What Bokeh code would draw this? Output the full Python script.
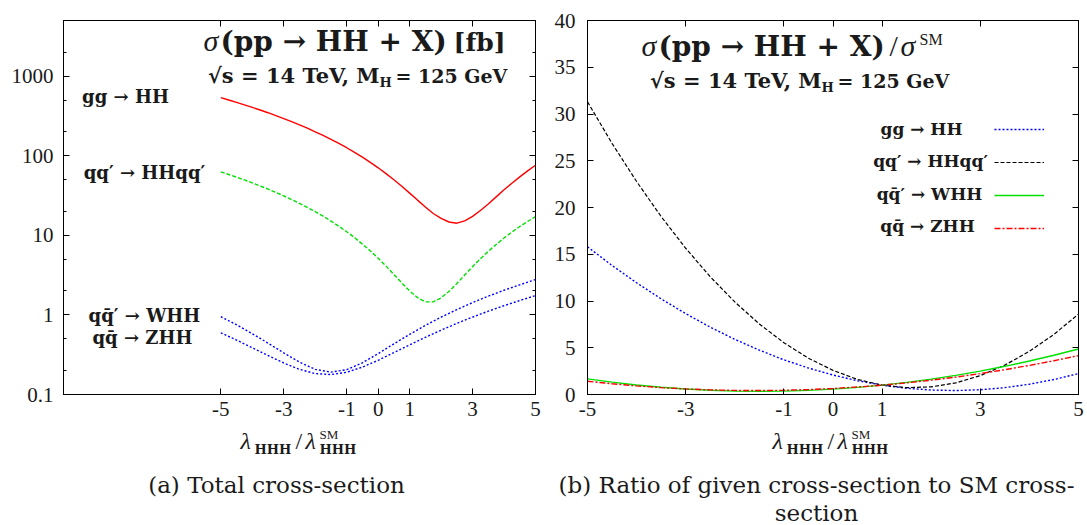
from bokeh.plotting import figure
from bokeh.models import (FixedTicker, LinearAxis, LogAxis, Label, Legend, LegendItem,
                          CustomJSTickFormatter)
from bokeh.layouts import row, column
from bokeh.embed import file_html
from bokeh.resources import INLINE

# ---------------- data ----------------
lam = [-5.0, -4.5, -4.0, -3.5, -3.0, -2.5, -2.0, -1.5, -1.0, -0.5, 0.0,
       0.5, 1.0, 1.5, 2.0, 2.5, 3.0, 3.5, 4.0, 4.5, 5.0]
lam_a = [-5.0, -4.75, -4.5, -4.25, -4.0, -3.75, -3.5, -3.25, -3.0, -2.75, -2.5,
         -2.25, -2.0, -1.75, -1.5, -1.25, -1.0, -0.75, -0.5, -0.25, 0.0,
         0.25, 0.5, 0.75, 1.0, 1.25, 1.5, 1.75, 2.0, 2.25, 2.5,
         2.75, 3.0, 3.25, 3.5, 3.75, 4.0, 4.25, 4.5, 4.75, 5.0]

# (a) total cross sections [fb]
xs_gg = [536, 501, 468, 436, 405, 375, 347, 319, 293, 268, 244,
         222, 200, 180, 161, 143, 126, 110, 96, 82.5, 70.5,
         59.5, 49.8, 41.3, 33.9, 27.7, 22.7, 18.8, 16.3, 14.7, 14.2,
         15.2, 17.3, 20.5, 24.7, 30.4, 37.3, 45.1, 54.2, 64.5, 75.9]
xs_vbf = [62.6, 58.1, 53.7, 49.6, 45.6, 41.7, 38.1, 34.6, 31.3, 28.1, 25.2,
          22.4, 19.8, 17.4, 15.1, 13.0, 11.1, 9.34, 7.76, 6.37, 5.16,
          4.10, 3.22, 2.53, 2.0, 1.65, 1.46, 1.46, 1.64, 1.97, 2.48,
          3.18, 4.04, 5.08, 6.28, 7.67, 9.24, 11.0, 12.9, 14.9, 17.2]
xs_whh = [0.95, 0.752, 0.581, 0.442, 0.333, 0.255, 0.207, 0.191, 0.205, 0.250, 0.326,
          0.433, 0.57, 0.738, 0.937, 1.167, 1.427, 1.719, 2.04, 2.39, 2.78]
xs_zhh = [0.596, 0.483, 0.386, 0.309, 0.249, 0.207, 0.183, 0.178, 0.190, 0.221, 0.269,
          0.336, 0.42, 0.523, 0.643, 0.782, 0.939, 1.114, 1.307, 1.518, 1.747]

# (b) ratio to SM
r_gg = [15.8, 13.80, 11.95, 10.23, 8.65, 7.20, 5.90, 4.74, 3.71, 2.83, 2.08,
        1.47, 1.0, 0.67, 0.48, 0.42, 0.51, 0.73, 1.10, 1.60, 2.24]
r_vbf = [31.3, 26.86, 22.78, 19.03, 15.64, 12.59, 9.90, 7.54, 5.54, 3.88, 2.58,
         1.61, 1.0, 0.73, 0.82, 1.24, 2.02, 3.14, 4.62, 6.43, 8.6]
r_whh = [1.67, 1.32, 1.02, 0.775, 0.584, 0.447, 0.364, 0.335, 0.36, 0.439, 0.572,
         0.759, 1.0, 1.295, 1.644, 2.047, 2.504, 3.015, 3.58, 4.199, 4.87]
r_zhh = [1.42, 1.149, 0.92, 0.735, 0.592, 0.493, 0.436, 0.423, 0.452, 0.525, 0.64,
         0.799, 1.0, 1.245, 1.532, 1.863, 2.236, 2.653, 3.112, 3.615, 4.16]

x_ticks = [-5, -3, -1, 0, 1, 3, 5]
y_ticks_a = [0.1, 1, 10, 100, 1000]
y_minor_a = [0.2, 0.5, 2, 5, 20, 50, 200, 500, 2000, 5000]
y_ticks_b = [0, 5, 10, 15, 20, 25, 30, 35, 40]

TXT = "#1a1a1a"
BOLD = "DejaVu Serif"
ROMAN = "Liberation Serif"
BASE_OFF = 0.33  # correction of rendered baseline, in em


def style_axis(ax, show=True, standoff=7):
    ax.axis_line_color = "black"
    ax.axis_line_width = 1
    ax.major_tick_in = 6
    ax.major_tick_out = 0
    ax.minor_tick_in = 3
    ax.minor_tick_out = 0
    ax.major_tick_line_color = "black"
    ax.minor_tick_line_color = "black"
    ax.major_label_text_font = ROMAN
    ax.major_label_text_font_size = "21px"
    ax.major_label_text_color = TXT
    ax.major_label_standoff = standoff
    if not show:
        ax.formatter = CustomJSTickFormatter(code="return ''")
        ax.major_label_text_font_size = "1px"
        ax.major_label_standoff = 0


def lab(p, x, y, text, font=BOLD, size=18, style="normal", align="left"):
    p.add_layout(Label(x=x, y=y + BASE_OFF * size, x_units="screen", y_units="screen",
                       text=text, text_font=font, text_font_size=f"{size}px",
                       text_font_style=style, text_align=align,
                       text_baseline="alphabetic", text_color=TXT))


def base_fig(w, h, xr, yr, ytype, bl, br, bt, bb):
    p = figure(width=w, height=h, x_range=xr, y_range=yr, y_axis_type=ytype,
               output_backend="svg", toolbar_location=None,
               min_border_left=bl, min_border_right=br, min_border_top=bt, min_border_bottom=bb)
    p.xgrid.visible = False
    p.ygrid.visible = False
    p.outline_line_color = "black"
    p.outline_line_width = 1
    p.outline_line_alpha = 1
    p.background_fill_color = "white"
    p.border_fill_color = "white"
    return p


xfmt = "return tick.toFixed(0)"

# ---------------- panel (a) ----------------
p1 = base_fig(543, 426, (-10, 5), (0.1, 5000), "log", 63, 8, 18, 32)
xa = p1.xaxis[0]
xa.ticker = FixedTicker(ticks=x_ticks)
xa.formatter = CustomJSTickFormatter(code=xfmt)
style_axis(xa, True, 7)
ya = p1.yaxis[0]
ya.ticker = FixedTicker(ticks=y_ticks_a, minor_ticks=y_minor_a)
ya.formatter = CustomJSTickFormatter(code="return tick < 1 ? tick.toFixed(1) : tick.toFixed(0)")
style_axis(ya, True, 10)
top1 = LinearAxis(ticker=FixedTicker(ticks=x_ticks))
style_axis(top1, False)
p1.add_layout(top1, "above")
right1 = LogAxis(ticker=FixedTicker(ticks=y_ticks_a, minor_ticks=y_minor_a))
style_axis(right1, False)
p1.add_layout(right1, "right")

p1.line(lam_a, xs_gg, line_color="#ff0000", line_width=1.4)
p1.line(lam_a, xs_vbf, line_color="#00e000", line_width=1.4, line_dash="4 2")
p1.line(lam, xs_whh, line_color="#0000ff", line_width=1.4, line_dash="2 2")
p1.line(lam, xs_zhh, line_color="#0000ff", line_width=1.4, line_dash="2 2")

# title / subtitle (a)
lab(p1, 140, 344, "σ", font=ROMAN, size=30, style="italic")
lab(p1, 157, 344, "(pp → HH + X)", size=28, style="bold")
lab(p1, 442, 344, "[fb]", size=25, style="bold", align="right")
lab(p1, 316, 312, "√s = 14 TeV, M", size=21, style="bold", align="right")
lab(p1, 316, 308, "H", size=13, style="bold")
lab(p1, 332, 312, "= 125 GeV", size=19, style="bold")
# curve labels
lab(p1, 62, 292, "gg → HH", size=18, style="bold", align="center")
lab(p1, 81, 216, "qq′ → HHqq′", size=18, style="bold", align="center")
lab(p1, 81, 73, "qq\u0304′ → WHH", size=18, style="bold", align="center")
lab(p1, 79, 51, "qq\u0304 → ZHH", size=18, style="bold", align="center")

# ---------------- panel (b) ----------------
p2 = base_fig(544, 426, (-5, 5), (0, 40), "linear", 44, 9, 20, 31)
xb = p2.xaxis[0]
xb.ticker = FixedTicker(ticks=x_ticks)
xb.formatter = CustomJSTickFormatter(code=xfmt)
style_axis(xb, True, 7)
yb = p2.yaxis[0]
yb.ticker = FixedTicker(ticks=y_ticks_b)
style_axis(yb, True, 12)
top2 = LinearAxis(ticker=FixedTicker(ticks=x_ticks))
style_axis(top2, False)
p2.add_layout(top2, "above")
right2 = LinearAxis(ticker=FixedTicker(ticks=y_ticks_b))
style_axis(right2, False)
p2.add_layout(right2, "right")

g1 = p2.line(lam, r_gg, line_color="#0000ff", line_width=1.4, line_dash="2 2")
g2 = p2.line(lam, r_vbf, line_color="#000000", line_width=1.2, line_dash="4 2")
g3 = p2.line(lam, r_whh, line_color="#00e000", line_width=1.4)
g4 = p2.line(lam, r_zhh, line_color="#ff0000", line_width=1.4, line_dash="6 2 2 2")

leg = Legend(items=[LegendItem(label=" ", renderers=[g]) for g in (g1, g2, g3, g4)],
             location=(407, 156), orientation="vertical", glyph_width=50, glyph_height=20,
             label_height=20, label_width=1, label_standoff=0, spacing=13, padding=0,
             margin=0, border_line_alpha=0, background_fill_alpha=0,
             label_text_font_size="1px")
p2.add_layout(leg)

# title / subtitle (b)
lab(p2, 54, 339, "σ", font=ROMAN, size=30, style="italic")
lab(p2, 71, 339, "(pp → HH + X)", size=28, style="bold")
lab(p2, 302, 339, "/", font=ROMAN, size=30)
lab(p2, 313, 339, "σ", font=ROMAN, size=30, style="italic")
lab(p2, 332, 350, "SM", font=ROMAN, size=16)
lab(p2, 234, 307, "√s = 14 TeV, M", size=21, style="bold", align="right")
lab(p2, 234, 303, "H", size=13, style="bold")
lab(p2, 250, 307, "= 125 GeV", size=19, style="bold")
# legend texts
lab(p2, 334, 260, "gg → HH", size=17, style="bold", align="center")
lab(p2, 343, 228, "qq′ → HHqq′", size=17, style="bold", align="center")
lab(p2, 342, 195, "qq\u0304′ → WHH", size=17, style="bold", align="center")
lab(p2, 340, 163, "qq\u0304 → ZHH", size=17, style="bold", align="center")

# ---------------- bottom strip: axis titles and captions ----------------
p3 = figure(width=1087, height=99, x_range=(0, 1087), y_range=(0, 99),
            output_backend="svg", toolbar_location=None, min_border=0,
            x_axis_location=None, y_axis_location=None)
p3.outline_line_color = None
p3.grid.visible = False
p3.background_fill_color = "white"
p3.border_fill_color = "white"

for x0 in (240, 772):
    lab(p3, x0, 77, "λ", font=ROMAN, size=24, style="italic")
    lab(p3, x0 + 14, 72, "HHH", size=13, style="bold")
    lab(p3, x0 + 55, 77, "/", font=ROMAN, size=24)
    lab(p3, x0 + 65, 77, "λ", font=ROMAN, size=24, style="italic")
    lab(p3, x0 + 79, 87, "SM", font=ROMAN, size=13)
    lab(p3, x0 + 79, 72, "HHH", size=13, style="bold")

lab(p3, 276, 33, "(a) Total cross-section", font="DejaVu Serif", size=23, align="center")
lab(p3, 816, 33, "(b) Ratio of given cross-section to SM cross-", font="DejaVu Serif", size=23, align="center")
lab(p3, 816, 5, "section", font="DejaVu Serif", size=23, align="center")

layout = column(row(p1, p2), p3)
open("out.html", "w").write(file_html(layout, INLINE))
